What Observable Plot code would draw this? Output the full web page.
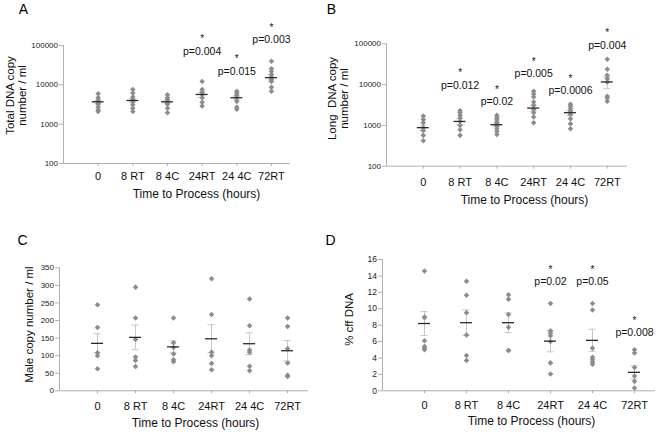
<!DOCTYPE html>
<html>
<head>
<meta charset="utf-8">
<script src="https://cdn.jsdelivr.net/npm/d3@7"></script>
<script src="https://cdn.jsdelivr.net/npm/@observablehq/plot@0.6"></script>
<style>
  html, body { margin: 0; padding: 0; background: #fff; }
  #wrap { position: relative; width: 661px; height: 432px; overflow: hidden; background: #fff; }
  #wrap > div { position: absolute; }
</style>
</head>
<body>
<div id="wrap"></div>
<script>
// ---------- data ----------
const categories = ["0", "8 RT", "8 4C", "24RT", "24 4C", "72RT"];
const xTitle = "Time to Process (hours)";

// A: total DNA copy number / ml (log scale)
const totalDNA = [
  [5900, 4700, 4000, 3600, 3200, 2700, 2300, 2100],
  [7600, 6200, 4900, 4200, 3850, 3100, 2550, 2100],
  [5600, 4700, 4200, 3600, 3200, 2550, 1950],
  [12200, 7600, 6500, 5600, 4700, 3600, 2900],
  [6900, 6150, 5400, 4700, 3800, 2700, 2400],
  [40000, 25700, 21900, 18400, 15700, 13700, 12200, 8700, 6900]
];
const totalMean = [3700, 4000, 3700, 5700, 4700, 15200];
const totalSE = [350, 500, 350, 900, 500, 2800];
const totalP = [
  {cat: 4, p: "p=0.004", star: 180000, label: 70800},
  {cat: 5, p: "p=0.015", star: 56000, label: 21900},
  {cat: 6, p: "p=0.003", star: 344000, label: 143000}
];

// B: long DNA copy number / ml (log scale)
const longDNA = [
  [1690, 1400, 1160, 880, 750, 570, 420],
  [2300, 2050, 1760, 1510, 1250, 1000, 780, 570],
  [1760, 1550, 1380, 1200, 1080, 960, 830, 710, 600],
  [6850, 5870, 4950, 3730, 3100, 2470, 2050, 1600, 1160],
  [3280, 2930, 2570, 2210, 1860, 1460, 1100, 830],
  [41900, 23800, 16900, 14000, 11600, 5160, 4690, 3890]
];
const longMean = [880, 1250, 1040, 2660, 2050, 11600];
const longSE = [130, 200, 110, 450, 280, 3700];
const longP = [
  {cat: 2, p: "p=0.012", star: 22900, label: 9620},
  {cat: 3, p: "p=0.02", star: 8730, label: 3890},
  {cat: 4, p: "p=0.005", star: 43500, label: 18600},
  {cat: 5, p: "p=0.0006", star: 16300, label: 7250},
  {cat: 6, p: "p=0.004", star: 216000, label: 92500}
];

// C: male copy number / ml
const maleCopies = [
  [245, 180, 108, 100, 63],
  [295, 207, 146, 96, 86, 69],
  [207, 137, 123, 105, 88, 83],
  [319, 217, 110, 100, 78, 60],
  [261, 185, 116, 110, 70, 57],
  [207, 183, 120, 79, 44, 41]
];
const maleMean = [135, 152, 125, 148, 134, 114];
const maleSE = [27, 35, 17, 40, 31, 29];

// D: % cff DNA
const cffPercent = [
  [14.6, 9.0, 8.9, 6.1, 5.4, 5.2, 5.0],
  [13.35, 11.65, 9.5, 6.8, 4.3, 3.7],
  [11.7, 11.15, 9.3, 7.75, 4.9, 4.9],
  [10.65, 7.3, 7.05, 6.7, 6.0, 3.4, 2.05],
  [10.65, 9.85, 5.2, 4.1, 3.8, 3.5, 3.25],
  [5.0, 4.6, 2.85, 1.8, 1.15, 0.35]
];
const cffMean = [8.2, 8.3, 8.3, 6.05, 6.15, 2.25];
const cffSE = [1.45, 1.55, 1.2, 1.3, 1.35, 0.8];
const cffP = [
  {cat: 4, p: "p=0.02", star: 15.05, label: 13.3},
  {cat: 5, p: "p=0.05", star: 15.05, label: 13.3},
  {cat: 6, p: "p=0.008", star: 8.9, label: 7.1}
];

// ---------- drawing ----------
const FONT = "'Liberation Sans', Arial, Helvetica, sans-serif";
const AXIS = "#b0b0b0";

const rowsOf = groups => groups.flatMap((vals, i) => vals.map(v => ({x: i + 1, v})));
const statsOf = (mean, se) => mean.map((m, i) => ({x: i + 1, m, lo: m - se[i], hi: m + se[i]}));

function panel(cfg) {
  const points = rowsOf(cfg.groups);
  const stats = statsOf(cfg.mean, cfg.se);
  const ann = (cfg.pvals || []).map(d => ({...d, x: d.cat}));
  const yBase = cfg.yDomain[0];
  const marks = [
    Plot.ruleX([0], {stroke: AXIS}),
    Plot.ruleY([yBase], {stroke: AXIS}),
    Plot.axisY({ticks: cfg.yTicks, tickFormat: d3.format("d"), tickSize: 4, tickPadding: 1.5,
      fontSize: cfg.yFont, stroke: AXIS, fill: "#222", label: null}),
    Plot.axisX({ticks: [1, 2, 3, 4, 5, 6], tickFormat: i => categories[i - 1], tickSize: 3,
      tickPadding: cfg.catPad, fontSize: 11, stroke: AXIS, fill: "#111", label: null}),
    Plot.ruleX(stats, {x: "x", y1: "lo", y2: "hi", stroke: "#c6c6c6"}),
    Plot.ruleY(stats, {x1: "x", x2: "x", y: "lo", stroke: "#c6c6c6", insetLeft: -3.5, insetRight: -3.5}),
    Plot.ruleY(stats, {x1: "x", x2: "x", y: "hi", stroke: "#c6c6c6", insetLeft: -3.5, insetRight: -3.5}),
    Plot.dot(points, {x: "x", y: "v", symbol: "diamond2", r: 2.5, fill: "#8c8c8c", stroke: "none"}),
    Plot.ruleY(stats, {x1: "x", x2: "x", y: "m", stroke: "#2a2a2a", strokeWidth: 1.3, insetLeft: -6, insetRight: -6}),
    Plot.text(ann, {x: "x", y: "star", text: () => "*", fontSize: 10, dy: 3, fill: "#111"}),
    Plot.text(ann, {x: "x", y: "label", text: "p", fontSize: 10.5, fill: "#111"}),
    Plot.text([cfg.letter], {text: d => d, frameAnchor: "top-left", dx: cfg.letterD[0], dy: cfg.letterD[1],
      fontSize: 14, textAnchor: "middle", lineAnchor: "middle", fill: "#000"}),
    Plot.text([cfg.yTitle], {text: d => d, frameAnchor: "left", dx: cfg.yTitleD[0], dy: cfg.yTitleD[1],
      rotate: -90, fontSize: 11.5, lineHeight: 1.1, textAnchor: "middle", lineAnchor: "middle", fill: "#111"}),
    Plot.text([xTitle], {text: d => d, frameAnchor: "bottom", dx: cfg.xTitleD[0], dy: cfg.xTitleD[1],
      fontSize: 12, textAnchor: "middle", lineAnchor: "middle", fill: "#111"})
  ];
  const chart = Plot.plot({
    width: cfg.w, height: cfg.h,
    marginLeft: cfg.m[0], marginRight: cfg.m[1], marginTop: cfg.m[2], marginBottom: cfg.m[3],
    style: {fontFamily: FONT, background: "white", overflow: "visible"},
    x: {domain: [0, cfg.xMax]},
    y: {type: cfg.yType, domain: cfg.yDomain},
    marks
  });
  const holder = document.createElement("div");
  holder.style.left = cfg.left + "px";
  holder.style.top = cfg.top + "px";
  holder.style.width = cfg.w + "px";
  holder.style.height = cfg.h + "px";
  holder.appendChild(chart);
  document.getElementById("wrap").appendChild(holder);
}

panel({
  left: 0, top: 0, w: 320, h: 210, m: [63, 30, 45, 47], xMax: 6.55,
  yType: "log", yDomain: [100, 100000], yTicks: [100, 1000, 10000, 100000], yFont: 8,
  groups: totalDNA, mean: totalMean, se: totalSE, pvals: totalP, catPad: 6,
  letter: "A", letterD: [-40, -36],
  yTitle: "Total DNA copy\nnumber / ml", yTitleD: [-47.5, -9],
  xTitleD: [19.5, 31]
});

panel({
  left: 320, top: 0, w: 341, h: 210, m: [66, 34, 43.3, 44.3], xMax: 6.55,
  yType: "log", yDomain: [100, 100000], yTicks: [100, 1000, 10000, 100000], yFont: 8,
  groups: longDNA, mean: longMean, se: longSE, pvals: longP, catPad: 9,
  letter: "B", letterD: [-55, -34.3],
  yTitle: "Long  DNA copy\nnumber / ml", yTitleD: [-48.5, -6.5],
  xTitleD: [17.5, 34]
});

panel({
  left: 0, top: 210, w: 320, h: 222, m: [59, 12, 57.3, 41.7], xMax: 6.55,
  yType: "linear", yDomain: [0, 350], yTicks: d3.range(0, 351, 50), yFont: 8,
  groups: maleCopies, mean: maleMean, se: maleSE, pvals: [], catPad: 8,
  letter: "C", letterD: [-37, -27.3],
  yTitle: "Male copy number / ml", yTitleD: [-31, -4.8],
  xTitleD: [11.5, 32.5]
});

panel({
  left: 320, top: 210, w: 341, h: 222, m: [62, 6, 49, 41.7], xMax: 6.5,
  yType: "linear", yDomain: [0, 16], yTicks: d3.range(0, 17, 2), yFont: 8.5,
  groups: cffPercent, mean: cffMean, se: cffSE, pvals: cffP, catPad: 7,
  letter: "D", letterD: [-52, -19],
  yTitle: "% cff DNA", yTitleD: [-34, -5.7],
  xTitleD: [12.5, 30]
});
</script>
</body>
</html>
